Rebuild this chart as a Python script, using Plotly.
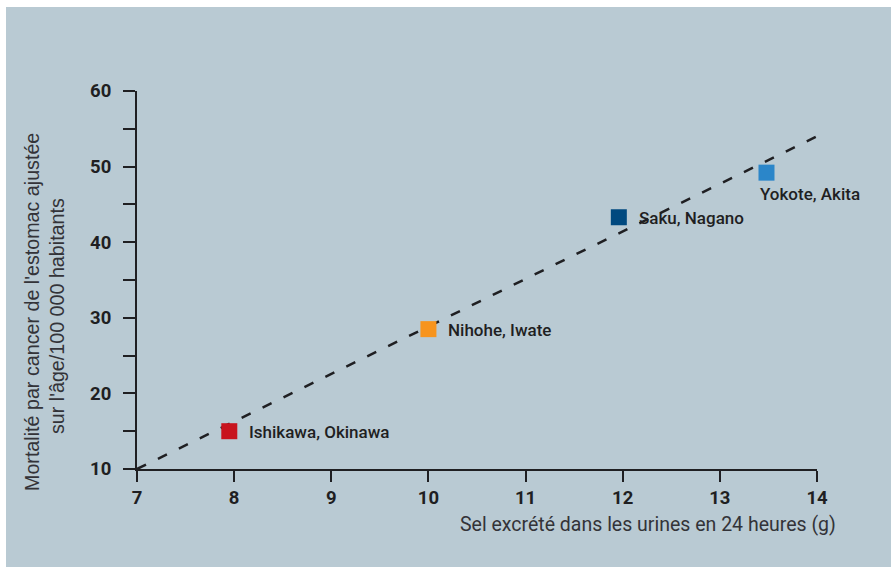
import plotly.graph_objects as go

# Regions of Japan: salt excretion vs. stomach cancer mortality
regions = ["Ishikawa, Okinawa", "Nihohe, Iwate", "Saku, Nagano", "Yokote, Akita"]
salt_g = [7.95, 10.0, 11.96, 13.48]
mortality = [15.0, 28.5, 43.3, 49.2]
colors = ["#c8141e", "#f7941d", "#00497f", "#2b86c9"]

# Trend line endpoints
trend_x = [7, 14]
trend_y = [10, 54]

x_ticks = [7, 8, 9, 10, 11, 12, 13, 14]
y_ticks = [10, 20, 30, 40, 50, 60]

BG = "#b9cad3"
INK = "#1f1f22"

fig = go.Figure()

fig.add_trace(go.Scatter(
    x=trend_x, y=trend_y, mode="lines",
    line=dict(color=INK, width=2.5, dash="10px,13.3px"),
    hoverinfo="skip", showlegend=False, cliponaxis=False,
))

fig.add_trace(go.Scatter(
    x=salt_g, y=mortality, mode="markers",
    marker=dict(symbol="square", size=16, color=colors, line=dict(width=0)),
    text=regions, showlegend=False, cliponaxis=False,
))

# Point labels
label_offsets = {
    "Yokote, Akita": dict(xshift=-8, yshift=-21),
}
for name, xv, yv in zip(regions, salt_g, mortality):
    off = label_offsets.get(name, dict(xshift=18, yshift=-1))
    fig.add_annotation(
        x=xv, y=yv, text=name, showarrow=False,
        xanchor="left", yanchor="middle",
        font=dict(family="Roboto", size=17, color=INK, weight=500),
        **off,
    )

# Axis titles
fig.add_annotation(
    x=(838 - 137) / 680, y=(469 - 524) / 378, xref="paper", yref="paper",
    text="Sel excrété dans les urines en 24 heures (g)", showarrow=False,
    xanchor="right", yanchor="middle",
    font=dict(family="Roboto", size=19.5, color="#333338"),
)
y_title_font = dict(family="Liberation Sans, Arial", size=19.7, color="#333338")
fig.add_annotation(
    x=(32 - 137) / 680, y=(469 - 312) / 378, xref="paper", yref="paper",
    text="Mortalité par cancer de l'estomac ajustée", showarrow=False,
    textangle=-90, xanchor="center", yanchor="middle", font=y_title_font,
)
fig.add_annotation(
    x=(57 - 137) / 680, y=(469 - 316) / 378, xref="paper", yref="paper",
    text="sur l'âge/100 000 habitants", showarrow=False,
    textangle=-90, xanchor="center", yanchor="middle", font=y_title_font,
)

# Panel background with a thin white edge on the left and top
fig.add_shape(
    type="rect", xref="paper", yref="paper", layer="below",
    x0=(6 - 137) / 680, x1=(900 - 137) / 680,
    y0=(469 - 580) / 378, y1=(469 - 7) / 378,
    fillcolor=BG, line=dict(width=0),
)

tick_font = dict(family="Roboto", size=18.5, color=INK, weight=700)

fig.update_xaxes(
    range=[7, 14], tickvals=x_ticks, ticktext=[str(v) for v in x_ticks],
    showline=True, linecolor=INK, linewidth=2,
    ticks="outside", ticklen=11, tickwidth=1.5, tickcolor=INK,
    showgrid=False, zeroline=False, tickfont=tick_font,
)
fig.update_yaxes(
    range=[10, 60], tickvals=y_ticks, ticktext=[str(v) for v in y_ticks],
    showline=True, linecolor=INK, linewidth=2,
    ticks="outside", ticklen=12, tickwidth=1.5, tickcolor=INK,
    minor=dict(tickvals=[15, 25, 35, 45, 55], ticks="outside", ticklen=12,
               tickwidth=1.5, tickcolor=INK),
    ticklabelstandoff=8,
    showgrid=False, zeroline=False, tickfont=tick_font,
)

fig.update_layout(
    width=891, height=567,
    margin=dict(l=137, r=74, t=91, b=98),
    paper_bgcolor="white", plot_bgcolor="rgba(0,0,0,0)",
    showlegend=False,
)

fig.write_html("out.html")
